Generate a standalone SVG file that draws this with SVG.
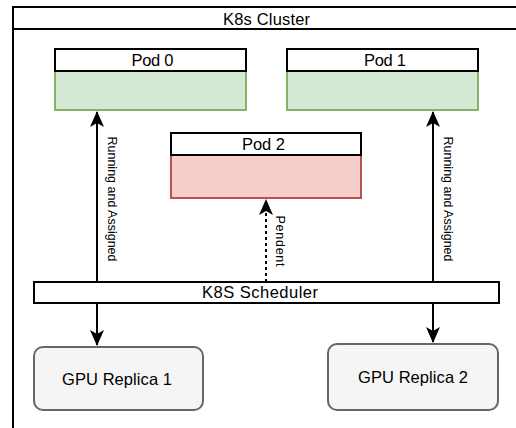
<svg xmlns="http://www.w3.org/2000/svg" width="516" height="428" viewBox="0 0 516 428">
<style>
text{font-family:"Liberation Sans",Arial,sans-serif;font-size:16.5px;fill:#000}
.lbl{font-size:12.5px}
.hdr{fill:#fff;stroke:#000;stroke-width:2}
.green{fill:#d5e8d4;stroke:#82b366;stroke-width:2}
.red{fill:#f8cecc;stroke:#b85450;stroke-width:2}
.gpu{fill:#f5f5f5;stroke:#666;stroke-width:2}
.edge{stroke:#000;stroke-width:2;fill:none}
</style>
<defs>
<marker id="ah" viewBox="0 0 16 14" refX="15" refY="7" markerWidth="16" markerHeight="14" markerUnits="userSpaceOnUse" orient="auto">
<path d="M0,0 L16,7 L0,14 L4,7 Z" fill="#000"/>
</marker>
</defs>
<g id="cluster">
<rect x="13" y="7" width="520" height="440" fill="#fff" stroke="#000" stroke-width="2"/>
<line x1="13" y1="29" x2="533" y2="29" stroke="#000" stroke-width="2"/>
<text x="266.5" y="24.5" text-anchor="middle" textLength="87">K8s Cluster</text>
</g>
<g id="pod0">
<rect class="green" x="55" y="71" width="191" height="39"/>
<rect class="hdr" x="55" y="49" width="191" height="22"/>
<text x="152.5" y="65.5" text-anchor="middle" textLength="42">Pod 0</text>
</g>
<g id="pod1">
<rect class="green" x="287" y="71" width="191" height="39"/>
<rect class="hdr" x="287" y="49" width="191" height="22"/>
<text x="385" y="65.5" text-anchor="middle" textLength="42">Pod 1</text>
</g>
<g id="pod2">
<rect class="red" x="171" y="155" width="190" height="43"/>
<rect class="hdr" x="171" y="133" width="190" height="22"/>
<text x="263.5" y="149.5" text-anchor="middle" textLength="43">Pod 2</text>
</g>
<g id="connectors">
<line class="edge" x1="97" y1="282" x2="97" y2="112" marker-end="url(#ah)"/>
<line class="edge" x1="433" y1="282" x2="433" y2="112" marker-end="url(#ah)"/>
<line class="edge" x1="266" y1="282" x2="266" y2="200" stroke-width="1.2" stroke-dasharray="3,3" marker-end="url(#ah)"/>
<line class="edge" x1="97" y1="303" x2="97" y2="345" marker-end="url(#ah)"/>
<line class="edge" x1="433" y1="303" x2="433" y2="342" marker-end="url(#ah)"/>
<text class="lbl" transform="translate(107.5,199) rotate(90)" text-anchor="middle" textLength="125">Running and Assigned</text>
<text class="lbl" transform="translate(443.5,199) rotate(90)" text-anchor="middle" textLength="125">Running and Assigned</text>
<text class="lbl" transform="translate(275.5,241) rotate(90)" text-anchor="middle" textLength="51">Pendent</text>
</g>
<g id="scheduler">
<rect class="hdr" x="34" y="282" width="465" height="21"/>
<text x="260" y="298" text-anchor="middle" textLength="116">K8S Scheduler</text>
</g>
<g id="gpu1">
<rect class="gpu" x="34" y="347" width="169" height="63" rx="9"/>
<text x="117" y="384.5" text-anchor="middle" textLength="110">GPU Replica 1</text>
</g>
<g id="gpu2">
<rect class="gpu" x="328" y="344" width="170" height="66" rx="9"/>
<text x="413" y="383" text-anchor="middle" textLength="110">GPU Replica 2</text>
</g>
</svg>
